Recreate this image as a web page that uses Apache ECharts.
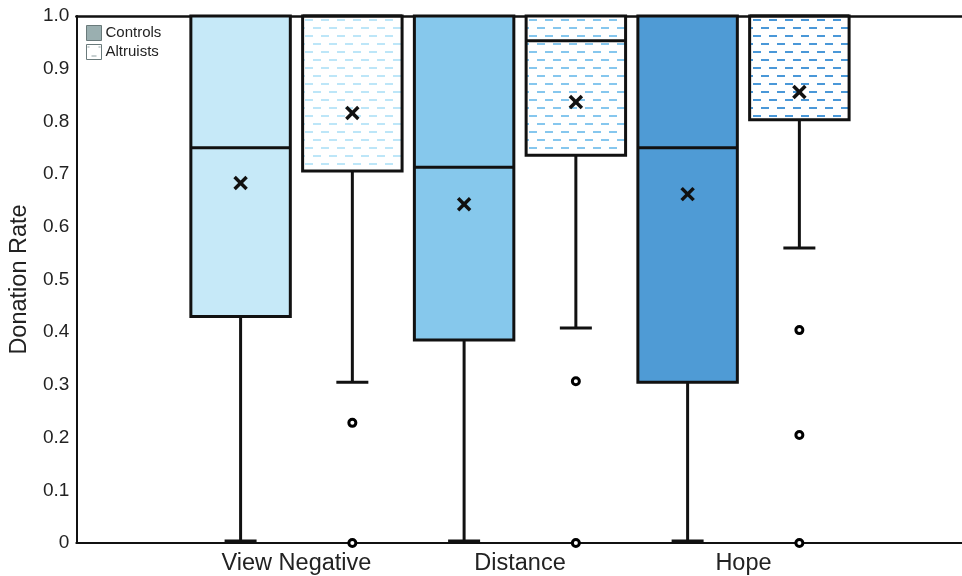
<!DOCTYPE html>
<html>
<head>
<meta charset="utf-8">
<script src="https://cdn.jsdelivr.net/npm/echarts@6/dist/echarts.min.js"></script>
<style>
html,body{margin:0;padding:0;background:#fff;overflow:hidden;width:962px;height:576px;}
#c{width:980px;height:576px;}
</style>
</head>
<body>
<div id="c"></div>
<script>
// ---- data ----
var categories = ['View Negative', 'Distance', 'Hope'];
var yTicks = [0, 0.1, 0.2, 0.3, 0.4, 0.5, 0.6, 0.7, 0.8, 0.9, 1.0];
// [min whisker, Q1, median, Q3, max whisker]
var controlsBox = [
  [0, 0.43, 0.75, 1.0, 1.0],
  [0, 0.385, 0.713, 1.0, 1.0],
  [0, 0.305, 0.75, 1.0, 1.0]
];
var controlsMean = [0.683, 0.643, 0.662];
var altruistsBox = [
  [0.305, 0.706, 1.0, 1.0, 1.0],
  [0.408, 0.736, 0.953, 1.0, 1.0],
  [0.56, 0.803, 1.0, 1.0, 1.0]
];
var altruistsMean = [0.816, 0.837, 0.856];
var altruistsOutliers = [
  [0.228, 0.0],
  [0.307, 0.0],
  [0.404, 0.205, 0.0]
];

// ---- styles ----
var controlsColors = ['#c6e9f8', '#86c8ec', '#4f9bd5'];
var dashColors = ['#bde6f8', '#86c7ee', '#4a98d8'];
var OFFSET = 0.25, BOXW = 0.445;

function makePattern(color) {
  var c = document.createElement('canvas');
  c.width = 16; c.height = 16;
  var ctx = c.getContext('2d');
  ctx.fillStyle = '#ffffff';
  ctx.fillRect(0, 0, 16, 16);
  ctx.fillStyle = color;
  ctx.fillRect(1, 3, 8, 2);
  ctx.fillRect(9, 11, 8, 2);
  ctx.fillRect(0, 11, 1, 2);
  return c;
}
var patterns = dashColors.map(makePattern);

function boxRender(boxes, means, side, fills) {
  return function (params, api) {
    var i = params.dataIndex;
    var b = boxes[i];
    var xc = (i + 1) + side * OFFSET;
    var pL = api.coord([xc - BOXW / 2, b[3]]);
    var pR = api.coord([xc + BOXW / 2, b[1]]);
    var pMed = api.coord([xc, b[2]]);
    var pMin = api.coord([xc, b[0]]);
    var pQ1 = api.coord([xc, b[1]]);
    var pMean = api.coord([xc, means[i]]);
    var capHalf = 16;
    var minY = Math.min(pMin[1], api.coord([0, 0])[1] - 2);
    var children = [];
    if (b[0] < b[1]) {
      children.push({type: 'line', shape: {x1: pMin[0], y1: pQ1[1], x2: pMin[0], y2: minY},
        style: {stroke: '#111', lineWidth: 3}});
      children.push({type: 'line', shape: {x1: pMin[0] - capHalf, y1: minY, x2: pMin[0] + capHalf, y2: minY},
        style: {stroke: '#111', lineWidth: 3}});
    }
    children.push({type: 'rect', shape: {x: pL[0], y: pL[1], width: pR[0] - pL[0], height: pR[1] - pL[1]},
      style: {fill: fills[i], stroke: '#111', lineWidth: 3}});
    children.push({type: 'line', shape: {x1: pL[0], y1: pMed[1], x2: pR[0], y2: pMed[1]},
      style: {stroke: '#111', lineWidth: 3}});
    var s = 6;
    children.push({type: 'line', shape: {x1: pMean[0] - s, y1: pMean[1] - s, x2: pMean[0] + s, y2: pMean[1] + s},
      style: {stroke: '#111', lineWidth: 3.5}});
    children.push({type: 'line', shape: {x1: pMean[0] - s, y1: pMean[1] + s, x2: pMean[0] + s, y2: pMean[1] - s},
      style: {stroke: '#111', lineWidth: 3.5}});
    return {type: 'group', children: children};
  };
}

var outlierData = [];
altruistsOutliers.forEach(function (arr, i) {
  arr.forEach(function (v) { outlierData.push([i + 1 + OFFSET, v]); });
});

var legendPattern = (function () {
  var c = document.createElement('canvas');
  c.width = 15; c.height = 15;
  var ctx = c.getContext('2d');
  ctx.fillStyle = '#fff'; ctx.fillRect(0, 0, 15, 15);
  ctx.fillStyle = '#8fa0a2'; ctx.fillRect(1, 2, 2, 1); ctx.fillRect(12, 2, 2, 1); ctx.fillRect(5, 11, 5, 1);
  return c;
})();

var chart = echarts.init(document.getElementById('c'), null, {renderer: 'canvas'});
var FONT = '"Liberation Sans", Arial, sans-serif';
chart.setOption({
  animation: false,
  backgroundColor: '#fff',
  grid: {left: 75, top: 16, width: 892, bottom: 33},
  legend: {
    left: 81, top: 20, orient: 'vertical', itemGap: 3, itemWidth: 15, itemHeight: 15,
    textStyle: {fontFamily: FONT, fontSize: 15, color: '#222', padding: [0, 0, 0, -1]},
    data: [
      {name: 'Controls', icon: 'rect', itemStyle: {color: '#9aafb0', borderColor: '#6a7a7b', borderWidth: 1}},
      {name: 'Altruists', icon: 'rect', itemStyle: {color: {image: legendPattern, repeat: 'no-repeat'}, borderColor: '#6a7a7b', borderWidth: 1}}
    ]
  },
  xAxis: [{
    type: 'value', min: 0.015, max: 4,
    axisLine: {show: true, lineStyle: {color: '#111', width: 2}},
    axisTick: {show: false},
    splitLine: {show: false},
    axisLabel: {
      customValues: [1, 2, 3],
      formatter: function (v) { var k = Math.round(v); return (k >= 1 && k <= 3) ? categories[k - 1] : ''; },
      fontFamily: FONT, fontSize: 23.5, color: '#222', margin: 9
    }
  }, {
    type: 'value', min: 0.015, max: 4, position: 'top',
    axisLine: {show: true, lineStyle: {color: '#111', width: 2.5}},
    axisTick: {show: false}, axisLabel: {show: false}, splitLine: {show: false}
  }],
  yAxis: {
    type: 'value', min: 0, max: 1, interval: 0.1,
    name: 'Donation Rate', nameLocation: 'middle', nameGap: 41,
    nameTextStyle: {fontFamily: FONT, fontSize: 23.5, color: '#222'},
    axisLine: {show: true, lineStyle: {color: '#111', width: 2}},
    axisTick: {show: false},
    splitLine: {show: false},
    axisLabel: {
      formatter: function (v) { return v === 0 ? '0' : v.toFixed(1); },
      fontFamily: FONT, fontSize: 19, color: '#222', margin: 7
    }
  },
  series: [
    {
      name: 'Controls', type: 'custom', xAxisIndex: 0,
      itemStyle: {color: '#9aafb0'},
      renderItem: boxRender(controlsBox, controlsMean, -1, controlsColors),
      data: categories.map(function (c, i) { return [i + 1 - OFFSET, controlsBox[i][2]]; }),
      encode: {x: 0, y: 1}
    },
    {
      name: 'Altruists', type: 'custom', xAxisIndex: 0,
      itemStyle: {color: '#ffffff'},
      renderItem: boxRender(altruistsBox, altruistsMean, 1, patterns.map(function (p) { return {image: p, repeat: 'repeat'}; })),
      data: categories.map(function (c, i) { return [i + 1 + OFFSET, altruistsBox[i][2]]; }),
      encode: {x: 0, y: 1}
    },
    {
      name: 'Altruists outliers', type: 'scatter', xAxisIndex: 0,
      symbol: 'circle', symbolSize: 7,
      itemStyle: {color: '#fff', borderColor: '#000', borderWidth: 3, opacity: 1},
      data: outlierData, z: 5
    }
  ]
});
</script>
</body>
</html>
